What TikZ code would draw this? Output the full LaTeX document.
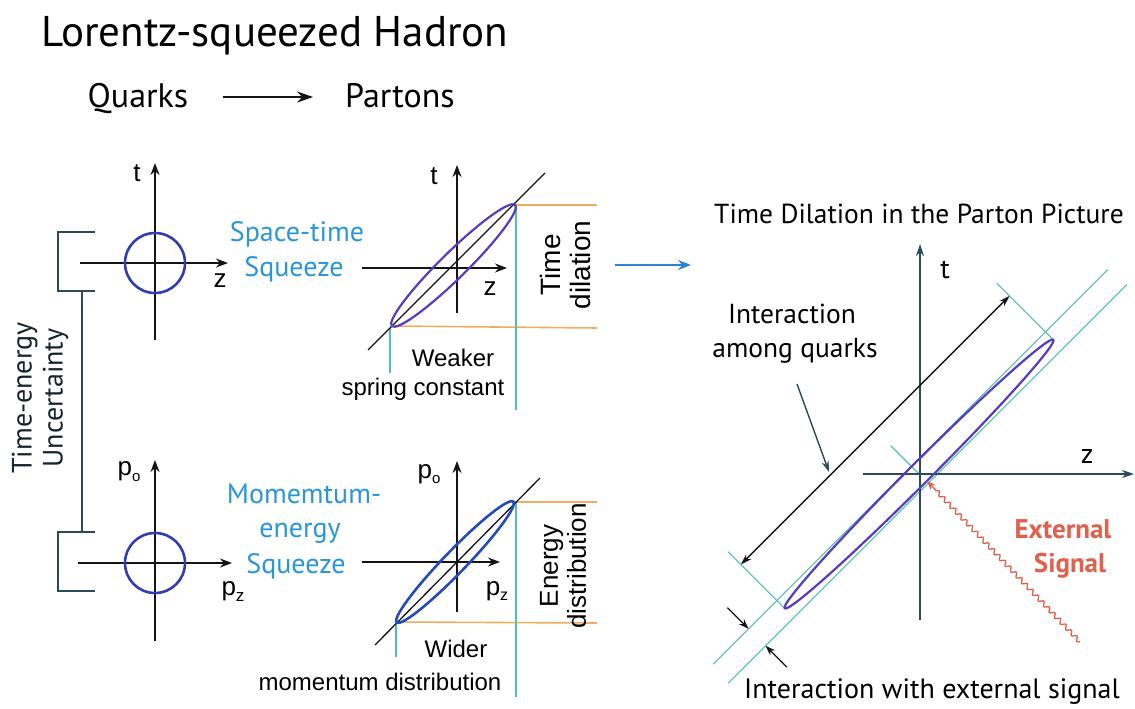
\documentclass[tikz,border=0pt]{standalone}
\usepackage{fontspec}
\setmainfont{PT Sans}
\newfontfamily\hv{Liberation Sans}
\usetikzlibrary{arrows.meta,decorations.pathmorphing}
\definecolor{inkc}{RGB}{20,20,20}
\definecolor{slatec}{RGB}{45,75,85}
\definecolor{bluet}{RGB}{40,150,220}
\definecolor{ringc}{RGB}{50,60,180}
\definecolor{lensA}{RGB}{85,60,195}
\definecolor{lensB}{RGB}{35,75,185}
\definecolor{orangec}{RGB}{235,175,95}
\definecolor{tealc}{RGB}{85,190,180}
\definecolor{redc}{RGB}{225,95,75}
\definecolor{arrowblue}{RGB}{45,130,215}
\newcommand{\fs}[1]{\fontsize{#1}{#1}\selectfont}
\begin{document}
\begin{tikzpicture}[x=1pt,y=-1pt,
  axisline/.style={draw=inkc,line width=1.8pt,-{Stealth[length=12pt,width=9pt]}},
  raxis/.style={draw=slatec,line width=1.8pt,-{Stealth[length=12pt,width=8pt]}},
  txt/.style={inner sep=0pt,outer sep=0pt},
  bluetxt/.style={txt,text=bluet,font=\fs{28}},
  hvtxt/.style={txt,font=\hv\fs{24}},
  axlbl/.style={txt,font=\hv\fs{26}},
  ring/.style={draw=ringc,line width=2.6pt},
  orangeline/.style={draw=orangec,line width=1.6pt},
  tealline/.style={draw=tealc,line width=1.3pt},
  bracket/.style={draw=slatec,line width=1.6pt}]
\useasboundingbox (0,0) rectangle (1135,709);

% ---------- header ----------
\node[txt,anchor=base] (title) at (275,47) {\fs{43}Lorentz-squeezed Hadron};
\node[txt,anchor=base] (quarks) at (138,107) {\fs{34}Quarks};
\node[txt,anchor=base] (partons) at (400,107) {\fs{34}Partons};
\coordinate (qa) at (223,97);
\coordinate (qb) at (313,97);
\draw[draw=inkc,line width=2pt,-{Stealth[length=16pt,width=11pt]}] (qa) -- (qb);

% ---------- top-left: t-z circle ----------
\coordinate (tlO) at (155,263);
\coordinate (tlL) at (80,263);
\coordinate (tlR) at (228,263);
\coordinate (tlB) at (155,340);
\coordinate (tlT) at (155,163);
\draw[axisline] (tlL) -- (tlR);
\draw[axisline] (tlB) -- (tlT);
\node[ring,circle,minimum size=60pt,inner sep=0pt] (ring1) at (tlO) {};
\node[axlbl] (t1) at (137,173) {t};
\node[axlbl] (z1) at (220,281) {z};

% ---------- bottom-left: p0-pz circle ----------
\coordinate (blO) at (155,563);
\coordinate (blL) at (78,563);
\coordinate (blR) at (232,563);
\coordinate (blB) at (155,641);
\coordinate (blT) at (155,460);
\draw[axisline] (blL) -- (blR);
\draw[axisline] (blB) -- (blT);
\node[ring,circle,minimum size=60pt,inner sep=0pt] (ring2) at (blO) {};
\node[axlbl] (p01) at (129,472) {p\raisebox{-6pt}{\fs{15}o}};
\node[axlbl] (pz1) at (233,592) {p\raisebox{-6pt}{\fs{17}z}};

% ---------- brackets ----------
\coordinate (b1a) at (95,232); \coordinate (b1b) at (58,232);
\coordinate (b1c) at (58,291); \coordinate (b1d) at (95,291);
\coordinate (b2a) at (95,532); \coordinate (b2b) at (58,532);
\coordinate (b2c) at (58,591); \coordinate (b2d) at (95,591);
\coordinate (bc1) at (82,291); \coordinate (bc2) at (82,532);
\draw[bracket] (b1a) -- (b1b) -- (b1c) -- (b1d);
\draw[bracket] (b2a) -- (b2b) -- (b2c) -- (b2d);
\draw[bracket] (bc1) -- (bc2);
\node[txt,rotate=90,align=center,font=\fs{28},text=slatec!50!black] (unc) at (40,398)
  {Time-energy\\[3pt]Uncertainty};

% ---------- blue labels ----------
\node[bluetxt,anchor=base] (st1) at (297,241) {Space-time};
\node[bluetxt,anchor=base] (st2) at (294,276) {Squeeze};
\node[bluetxt,anchor=base] (me1) at (304,503) {Momemtum-};
\node[bluetxt,anchor=base] (me2) at (300,537) {energy};
\node[bluetxt,anchor=base] (me3) at (296,573) {Squeeze};

% ---------- top-middle: squeezed t-z ----------
\coordinate (tmL) at (362,268);
\coordinate (tmR) at (507,268);
\coordinate (tmB) at (457,313);
\coordinate (tmT) at (457,165);
\coordinate (tmD1) at (368,350);
\coordinate (tmD2) at (545,173);
\coordinate (tmA) at (392,326);
\coordinate (tmC) at (515,205);
\coordinate (tmE) at (453.5,265.5);
\draw[orangeline] (tmC) -- (597,205) coordinate (tmo1);
\draw[orangeline] (tmA) -- (597,328) coordinate (tmo2);
\draw[tealline] (390,328) coordinate (tmg1) -- (390,373) coordinate (tmg2);
\draw[tealline] (516,205) coordinate (tmg3) -- (516,410) coordinate (tmg4);
\draw[axisline] (tmL) -- (tmR);
\draw[axisline] (tmB) -- (tmT);
\draw[draw=inkc,line width=1.3pt] (tmD1) -- (tmD2);
\draw[draw=lensA,line width=2.2pt,rotate around={44.5:(tmE)}] (tmE) ellipse (86.5pt and 13pt);
\node[axlbl] (t2) at (434,176) {t};
\node[axlbl] (z2) at (490,289) {z};
\node[txt,rotate=90,align=center,font=\hv\fs{28}] (tdil) at (565,265) {Time\\[2pt]dilation};
\node[hvtxt,anchor=base] (weak) at (453,366) {Weaker};
\node[hvtxt,anchor=base] (spring) at (423,395) {spring constant};

% ---------- bottom-middle: squeezed p0-pz ----------
\coordinate (bmL) at (362,562);
\coordinate (bmR) at (500,562);
\coordinate (bmB) at (457,612);
\coordinate (bmT) at (457,461);
\coordinate (bmD1) at (375,645);
\coordinate (bmD2) at (540,478);
\coordinate (bmA) at (397,622);
\coordinate (bmC) at (513,502);
\coordinate (bmE) at (455,562);
\draw[orangeline] (bmC) -- (597,502) coordinate (bmo1);
\draw[orangeline] (bmA) -- (597,623) coordinate (bmo2);
\draw[tealline] (396,623) coordinate (bmg1) -- (396,657) coordinate (bmg2);
\draw[tealline] (516,502) coordinate (bmg3) -- (516,697) coordinate (bmg4);
\draw[axisline] (bmL) -- (bmR);
\draw[axisline] (bmB) -- (bmT);
\draw[draw=inkc,line width=1.3pt] (bmD1) -- (bmD2);
\draw[draw=lensB,line width=2.6pt,rotate around={46:(bmE)}] (bmE) ellipse (84pt and 11pt);
\node[axlbl] (p02) at (429,474) {p\raisebox{-5pt}{\fs{15}o}};
\node[axlbl] (pz2) at (497,591) {p\raisebox{-5pt}{\fs{16}z}};
\node[txt,rotate=90,align=center,font=\hv\fs{26}] (edist) at (563,566) {Energy\\[2pt]distribution};
\node[hvtxt,anchor=base] (wider) at (456,657) {Wider};
\node[hvtxt,anchor=base] (momd) at (380,690) {momentum distribution};

% ---------- middle blue arrow ----------
\coordinate (ba1) at (615,265);
\coordinate (ba2) at (691,265);
\draw[draw=arrowblue,line width=2.2pt,-{Stealth[length=13pt,width=10pt]}] (ba1) -- (ba2);

% ---------- right diagram ----------
\node[txt,anchor=base,font=\fs{27.5}] (rtitle) at (919,223) {Time Dilation in the Parton Picture};
\coordinate (rO) at (919,474);
\coordinate (rB) at (920,620);
\coordinate (rT) at (920,244);
\coordinate (rL) at (863,474);
\coordinate (rR) at (1134,474);
% strip lines
\draw[tealline,line width=1.1pt] (713.2,664.2) coordinate (s1a) -- (1107.8,269.6) coordinate (s1b);
\draw[tealline,line width=1.1pt] (728.1,683.3) coordinate (s2a) -- (1126.9,284.5) coordinate (s2b);
% extension lines
\coordinate (eT1) at (1053.3,339.7);
\coordinate (eT2) at (784.7,608.3);
\draw[tealline,line width=1.1pt] (eT1) -- (996.7,283.1) coordinate (eT1o);
\draw[tealline,line width=1.1pt] (eT2) -- (728.1,551.7) coordinate (eT2o);
\draw[tealline,line width=1.1pt] (rO) -- (890.7,445.7) coordinate (rOp);
% axes
\draw[raxis] (rB) -- (rT);
\draw[raxis] (rL) -- (rR);
% ellipse
\draw[draw=lensA,line width=2.2pt,rotate around={45:(rO)}] (rO) ellipse (190pt and 10.5pt);
% dimension arrow
\coordinate (dA) at (740.9,564.5);
\coordinate (dB) at (1009.5,295.9);
\draw[draw=inkc,line width=1.3pt,{Stealth[length=11pt,width=7pt]}-{Stealth[length=11pt,width=7pt]}] (dA) -- (dB);
% pointer
\node[txt,anchor=base,font=\fs{27.5}] (iaq1) at (792,323) {Interaction};
\node[txt,anchor=base,font=\fs{27.5}] (iaq2) at (795,357) {among quarks};
\coordinate (pq1) at (797,384);
\coordinate (pq2) at (829,472);
\draw[draw=slatec,line width=1.4pt,-{Stealth[length=11pt,width=7pt]}] (pq1) -- (pq2);
% small arrows
\coordinate (sa1) at (727.4,607.6); \coordinate (sa1t) at (748.6,628.8);
\coordinate (sa2) at (786.8,667.0); \coordinate (sa2t) at (765.6,645.8);
\draw[draw=inkc,line width=1.3pt,-{Stealth[length=10pt,width=7pt]}] (sa1) -- (sa1t);
\draw[draw=inkc,line width=1.3pt,-{Stealth[length=10pt,width=7pt]}] (sa2) -- (sa2t);
% external signal
\coordinate (sig1) at (1080,642);
\coordinate (sig2) at (927,481);
\draw[draw=redc,line width=1.3pt,decorate,
  decoration={snake,amplitude=2pt,segment length=8pt,post length=10pt},
  -{Stealth[length=9pt,width=7pt]}] (sig1) -- (sig2);
\node[txt,anchor=base,text=redc,font=\fs{27}\bfseries] (ext1) at (1063,538) {External};
\node[txt,anchor=base,text=redc,font=\fs{27}\bfseries] (ext2) at (1070,572) {Signal};
\node[txt,anchor=base,font=\fs{28}] (iws) at (932,698) {Interaction with external signal};
\node[axlbl,font=\fs{28}] (t3) at (945,270) {t};
\node[axlbl,font=\fs{28}] (z3) at (1087,456) {z};
\end{tikzpicture}
\end{document}
